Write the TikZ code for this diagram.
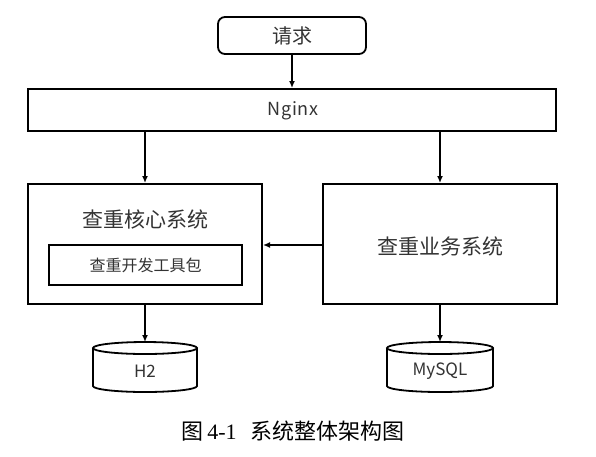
\documentclass[tikz,border=0pt]{standalone}
\usepackage{fontspec}
\setmainfont{Noto Sans CJK SC}
\newfontfamily\latinserif{Liberation Serif}
\usetikzlibrary{arrows.meta}
\tikzset{
  box/.style={draw=black, line width=2pt, rectangle, inner sep=0pt},
  lbl/.style={text=black!80, inner sep=0pt},
  conn/.style={line width=1.6pt, -{Latex[length=7pt,width=6pt]}},
  cyl/.style={draw=black, line width=1.8pt},
}
\begin{document}
\begin{tikzpicture}[x=1pt,y=-1pt]
\useasboundingbox (0,0) rectangle (596,456);
% request
\node[box, rounded corners=7pt, line width=1.8pt, minimum width=148pt, minimum height=37pt] (req) at (292,35.5) {};
\node[lbl, font=\fontsize{20}{20}\selectfont] (reqt) at (292,36) {请求};
% nginx
\node[box, minimum width=528pt, minimum height=42pt] (ngx) at (292,110) {};
\node[lbl, font=\fontsize{18}{18}\selectfont] (ngxt) at (293,111) {N\kern0.6pt g\kern0.6pt i\kern0.6pt n\kern0.6pt x};
% core system
\node[box, minimum width=234pt, minimum height=120pt] (core) at (145,244) {};
\node[lbl, font=\fontsize{21}{21}\selectfont] (coret) at (145,219) {查重核心系统};
\node[box, minimum width=193pt, minimum height=40pt] (kit) at (145.5,265) {};
\node[lbl, font=\fontsize{16}{16}\selectfont] (kitt) at (145.5,265) {查重开发工具包};
% business system
\node[box, minimum width=234pt, minimum height=120pt] (biz) at (440,244) {};
\node[lbl, font=\fontsize{21}{21}\selectfont] (bizt) at (440,246) {查重业务系统};
% cylinders
\draw[cyl, fill=white] (93,348) -- (93,386) arc[start angle=180, end angle=0, x radius=52, y radius=6] -- (197,348);
\draw[cyl] (145,348) ellipse[x radius=52, y radius=6];
\node[lbl, font=\fontsize{17}{17}\selectfont] (h2) at (145,371) {H2};
\coordinate (h2top) at (145,342);
\draw[cyl, fill=white] (387,348) -- (387,386) arc[start angle=180, end angle=0, x radius=53, y radius=6] -- (493,348);
\draw[cyl] (440,348) ellipse[x radius=53, y radius=6];
\node[lbl, font=\fontsize{17}{17}\selectfont] (my) at (440,371) {MySQL};
\coordinate (mytop) at (440,342);
% connectors
\draw[conn] (req.south) -- (req.south |- ngx.north);
\draw[conn] (ngx.south -| core.north) -- (core.north);
\draw[conn] (ngx.south -| biz.north) -- (biz.north);
\draw[conn] (biz.west |- 0,245) -- (core.east |- 0,245);
\draw[conn] (core.south) -- (h2top);
\draw[conn] (biz.south) -- (mytop);
% caption
\node[inner sep=0pt, font=\fontsize{22}{22}\selectfont] (cap) at (293,431) {图\kern4pt{\latinserif 4-1}\kern14pt 系统整体架构图};
\end{tikzpicture}
\end{document}
